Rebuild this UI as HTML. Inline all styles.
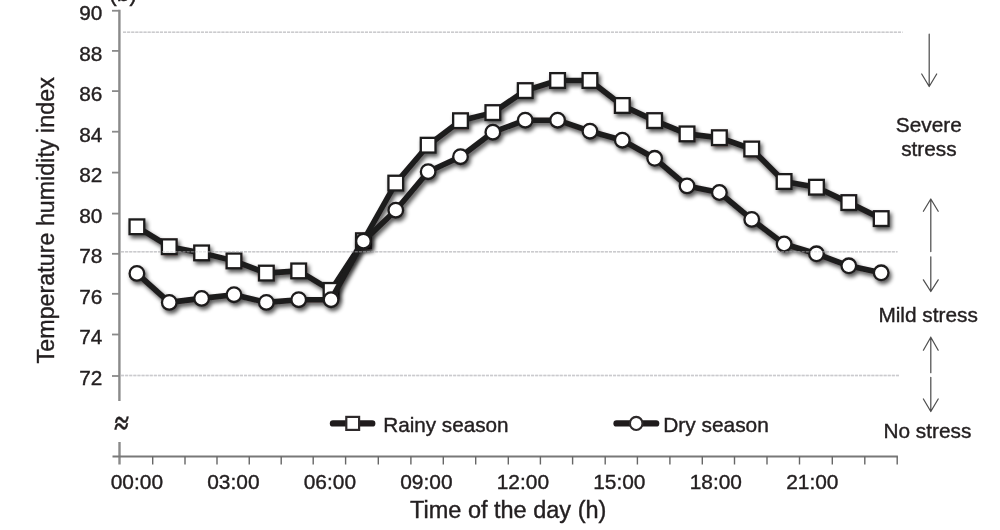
<!DOCTYPE html>
<html lang="en"><head><meta charset="utf-8"><title>Temperature humidity index</title>
<style>
html,body{margin:0;padding:0;background:#fff;}
body{width:1000px;height:530px;overflow:hidden;}
svg{display:block;filter:blur(0.45px);}
text{font-family:"Liberation Sans",sans-serif;fill:#231f20;stroke:#231f20;stroke-width:0.4px;}
</style></head><body>
<svg width="1000" height="530" viewBox="0 0 1000 530">
<defs>
<filter id="sh" x="-5%" y="-10%" width="110%" height="125%">
<feGaussianBlur in="SourceAlpha" stdDeviation="2.3"/>
<feOffset dx="1.5" dy="2.5" result="b"/>
<feComponentTransfer><feFuncA type="linear" slope="0.68"/></feComponentTransfer>
<feMerge><feMergeNode/><feMergeNode in="SourceGraphic"/></feMerge>
</filter>
</defs>
<rect width="1000" height="530" fill="#fff"/>

<g stroke="#cbcbce" stroke-width="1.5" stroke-dasharray="3.1 1" fill="none">
<line x1="123" y1="32.2" x2="902.5" y2="32.2"/>
<line x1="121" y1="251.8" x2="897.5" y2="251.8"/>
<line x1="121" y1="375.6" x2="899.5" y2="375.6"/>
</g>
<g stroke="#8a8a8a" fill="none">
<line x1="119.4" y1="9.7" x2="119.4" y2="401" stroke-width="2.4"/>
<line x1="119.5" y1="442" x2="119.5" y2="464.5" stroke-width="2.4"/>
<line x1="112.5" y1="456.5" x2="897.9" y2="456.5" stroke-width="1.9" stroke="#787878"/>
<line x1="112" y1="10.75" x2="119.4" y2="10.75" stroke-width="1.8"/>
<line x1="112" y1="50.90" x2="119.4" y2="50.90" stroke-width="1.8"/>
<line x1="112" y1="91.10" x2="119.4" y2="91.10" stroke-width="1.8"/>
<line x1="112" y1="131.70" x2="119.4" y2="131.70" stroke-width="1.8"/>
<line x1="112" y1="172.60" x2="119.4" y2="172.60" stroke-width="1.8"/>
<line x1="112" y1="213.60" x2="119.4" y2="213.60" stroke-width="1.8"/>
<line x1="112" y1="253.80" x2="119.4" y2="253.80" stroke-width="1.8"/>
<line x1="112" y1="293.80" x2="119.4" y2="293.80" stroke-width="1.8"/>
<line x1="112" y1="334.50" x2="119.4" y2="334.50" stroke-width="1.8"/>
<line x1="112" y1="376.00" x2="119.4" y2="376.00" stroke-width="1.8"/>
<line x1="152.70" y1="456.5" x2="152.70" y2="464.5" stroke-width="1.4" stroke="#666"/>
<line x1="185.00" y1="456.5" x2="185.00" y2="464.5" stroke-width="1.4" stroke="#666"/>
<line x1="217.00" y1="456.5" x2="217.00" y2="464.5" stroke-width="1.4" stroke="#666"/>
<line x1="249.25" y1="456.5" x2="249.25" y2="464.5" stroke-width="1.4" stroke="#666"/>
<line x1="281.20" y1="456.5" x2="281.20" y2="464.5" stroke-width="1.4" stroke="#666"/>
<line x1="313.20" y1="456.5" x2="313.20" y2="464.5" stroke-width="1.4" stroke="#666"/>
<line x1="345.60" y1="456.5" x2="345.60" y2="464.5" stroke-width="1.4" stroke="#666"/>
<line x1="378.30" y1="456.5" x2="378.30" y2="464.5" stroke-width="1.4" stroke="#666"/>
<line x1="410.90" y1="456.5" x2="410.90" y2="464.5" stroke-width="1.4" stroke="#666"/>
<line x1="443.30" y1="456.5" x2="443.30" y2="464.5" stroke-width="1.4" stroke="#666"/>
<line x1="475.70" y1="456.5" x2="475.70" y2="464.5" stroke-width="1.4" stroke="#666"/>
<line x1="508.30" y1="456.5" x2="508.30" y2="464.5" stroke-width="1.4" stroke="#666"/>
<line x1="540.40" y1="456.5" x2="540.40" y2="464.5" stroke-width="1.4" stroke="#666"/>
<line x1="572.60" y1="456.5" x2="572.60" y2="464.5" stroke-width="1.4" stroke="#666"/>
<line x1="605.20" y1="456.5" x2="605.20" y2="464.5" stroke-width="1.4" stroke="#666"/>
<line x1="637.40" y1="456.5" x2="637.40" y2="464.5" stroke-width="1.4" stroke="#666"/>
<line x1="669.90" y1="456.5" x2="669.90" y2="464.5" stroke-width="1.4" stroke="#666"/>
<line x1="702.30" y1="456.5" x2="702.30" y2="464.5" stroke-width="1.4" stroke="#666"/>
<line x1="734.50" y1="456.5" x2="734.50" y2="464.5" stroke-width="1.4" stroke="#666"/>
<line x1="767.00" y1="456.5" x2="767.00" y2="464.5" stroke-width="1.4" stroke="#666"/>
<line x1="799.50" y1="456.5" x2="799.50" y2="464.5" stroke-width="1.4" stroke="#666"/>
<line x1="832.30" y1="456.5" x2="832.30" y2="464.5" stroke-width="1.4" stroke="#666"/>
<line x1="864.80" y1="456.5" x2="864.80" y2="464.5" stroke-width="1.4" stroke="#666"/>
<line x1="897.20" y1="456.5" x2="897.20" y2="464.5" stroke-width="1.4" stroke="#666"/>
</g>
<g font-size="20.8" text-anchor="end">
<text x="102.3" y="20.20">90</text>
<text x="102.3" y="60.70">88</text>
<text x="102.3" y="101.20">86</text>
<text x="102.3" y="141.70">84</text>
<text x="102.3" y="182.20">82</text>
<text x="102.3" y="222.70">80</text>
<text x="102.3" y="263.20">78</text>
<text x="102.3" y="303.70">76</text>
<text x="102.3" y="344.20">74</text>
<text x="102.3" y="384.70">72</text>
</g>
<g font-size="20.9" text-anchor="middle">
<text x="136.90" y="489.4">00:00</text>
<text x="233.39" y="489.4">03:00</text>
<text x="329.88" y="489.4">06:00</text>
<text x="426.37" y="489.4">09:00</text>
<text x="522.86" y="489.4">12:00</text>
<text x="619.35" y="489.4">15:00</text>
<text x="715.84" y="489.4">18:00</text>
<text x="812.33" y="489.4">21:00</text>
</g>
<text x="508.2" y="517.6" font-size="23.5" text-anchor="middle">Time of the day (h)</text>
<text transform="translate(54,220.3) rotate(-90)" font-size="23.3" text-anchor="middle">Temperature humidity index</text>
<text x="109" y="1.2" font-size="23">(b)</text>
<text transform="translate(120.9,433.6) scale(0.86,1.08) skewX(-5)" font-size="30" text-anchor="middle" font-weight="bold" stroke="#231f20" stroke-width="1.1" style="font-family:'Liberation Serif',serif">≈</text>
<g font-size="20.8" text-anchor="middle">
<text x="928.8" y="131.8">Severe</text>
<text x="928.9" y="155.6">stress</text>
<text x="928.1" y="321.8">Mild stress</text>
<text x="927.4" y="437.5">No stress</text>
</g>
<g stroke="#505050" stroke-width="1.25" fill="none" stroke-linecap="round" stroke-linejoin="round">
<path d="M929.2 34.2V86.5M921.7 74L929.2 86.5L936.7 74"/>
<path d="M930.8 199V251.6M930.8 256.8V291.5M923.4 211.3L930.8 199L938.2 211.3M923.4 279.8L930.8 291.5L938.2 279.8"/>
<path d="M930.8 337.2V372.7M930.8 377.3V411.5M923.4 350.2L930.8 337.2L938.2 350.2M923.4 399L930.8 411.5L938.2 399"/>
</g>
<g filter="url(#sh)">
<polyline points="136.90,226.80 169.26,246.70 201.62,252.90 233.98,260.90 266.34,273.10 298.70,270.90 331.06,290.40 363.42,240.70 395.78,183.10 428.14,145.20 460.50,120.70 492.86,112.60 525.22,90.60 557.58,80.50 589.94,80.50 622.30,105.50 654.66,120.60 687.02,133.90 719.38,137.70 751.74,149.00 784.10,181.50 816.46,187.20 848.82,202.60 881.18,218.60" fill="none" stroke="#1f1b1c" stroke-width="5.6" stroke-linejoin="round" stroke-linecap="round"/>
<rect x="129.55" y="219.45" width="14.7" height="14.7" fill="#fff" stroke="#1f1b1c" stroke-width="2.3"/>
<rect x="161.91" y="239.35" width="14.7" height="14.7" fill="#fff" stroke="#1f1b1c" stroke-width="2.3"/>
<rect x="194.27" y="245.55" width="14.7" height="14.7" fill="#fff" stroke="#1f1b1c" stroke-width="2.3"/>
<rect x="226.63" y="253.55" width="14.7" height="14.7" fill="#fff" stroke="#1f1b1c" stroke-width="2.3"/>
<rect x="258.99" y="265.75" width="14.7" height="14.7" fill="#fff" stroke="#1f1b1c" stroke-width="2.3"/>
<rect x="291.35" y="263.55" width="14.7" height="14.7" fill="#fff" stroke="#1f1b1c" stroke-width="2.3"/>
<rect x="323.71" y="283.05" width="14.7" height="14.7" fill="#fff" stroke="#1f1b1c" stroke-width="2.3"/>
<rect x="356.07" y="233.35" width="14.7" height="14.7" fill="#fff" stroke="#1f1b1c" stroke-width="2.3"/>
<rect x="388.43" y="175.75" width="14.7" height="14.7" fill="#fff" stroke="#1f1b1c" stroke-width="2.3"/>
<rect x="420.79" y="137.85" width="14.7" height="14.7" fill="#fff" stroke="#1f1b1c" stroke-width="2.3"/>
<rect x="453.15" y="113.35" width="14.7" height="14.7" fill="#fff" stroke="#1f1b1c" stroke-width="2.3"/>
<rect x="485.51" y="105.25" width="14.7" height="14.7" fill="#fff" stroke="#1f1b1c" stroke-width="2.3"/>
<rect x="517.87" y="83.25" width="14.7" height="14.7" fill="#fff" stroke="#1f1b1c" stroke-width="2.3"/>
<rect x="550.23" y="73.15" width="14.7" height="14.7" fill="#fff" stroke="#1f1b1c" stroke-width="2.3"/>
<rect x="582.59" y="73.15" width="14.7" height="14.7" fill="#fff" stroke="#1f1b1c" stroke-width="2.3"/>
<rect x="614.95" y="98.15" width="14.7" height="14.7" fill="#fff" stroke="#1f1b1c" stroke-width="2.3"/>
<rect x="647.31" y="113.25" width="14.7" height="14.7" fill="#fff" stroke="#1f1b1c" stroke-width="2.3"/>
<rect x="679.67" y="126.55" width="14.7" height="14.7" fill="#fff" stroke="#1f1b1c" stroke-width="2.3"/>
<rect x="712.03" y="130.35" width="14.7" height="14.7" fill="#fff" stroke="#1f1b1c" stroke-width="2.3"/>
<rect x="744.39" y="141.65" width="14.7" height="14.7" fill="#fff" stroke="#1f1b1c" stroke-width="2.3"/>
<rect x="776.75" y="174.15" width="14.7" height="14.7" fill="#fff" stroke="#1f1b1c" stroke-width="2.3"/>
<rect x="809.11" y="179.85" width="14.7" height="14.7" fill="#fff" stroke="#1f1b1c" stroke-width="2.3"/>
<rect x="841.47" y="195.25" width="14.7" height="14.7" fill="#fff" stroke="#1f1b1c" stroke-width="2.3"/>
<rect x="873.83" y="211.25" width="14.7" height="14.7" fill="#fff" stroke="#1f1b1c" stroke-width="2.3"/>
</g>
<g filter="url(#sh)">
<polyline points="136.90,273.40 169.26,302.40 201.62,298.40 233.98,294.70 266.34,302.40 298.70,299.70 331.06,299.70 363.42,241.20 395.78,210.20 428.14,171.70 460.50,156.70 492.86,132.20 525.22,120.20 557.58,120.20 589.94,131.20 622.30,140.20 654.66,158.30 687.02,185.90 719.38,192.50 751.74,219.40 784.10,244.00 816.46,253.80 848.82,265.80 881.18,272.80" fill="none" stroke="#1f1b1c" stroke-width="5.6" stroke-linejoin="round" stroke-linecap="round"/>
<circle cx="136.90" cy="273.40" r="7.3" fill="#fff" stroke="#1f1b1c" stroke-width="2.3"/>
<circle cx="169.26" cy="302.40" r="7.3" fill="#fff" stroke="#1f1b1c" stroke-width="2.3"/>
<circle cx="201.62" cy="298.40" r="7.3" fill="#fff" stroke="#1f1b1c" stroke-width="2.3"/>
<circle cx="233.98" cy="294.70" r="7.3" fill="#fff" stroke="#1f1b1c" stroke-width="2.3"/>
<circle cx="266.34" cy="302.40" r="7.3" fill="#fff" stroke="#1f1b1c" stroke-width="2.3"/>
<circle cx="298.70" cy="299.70" r="7.3" fill="#fff" stroke="#1f1b1c" stroke-width="2.3"/>
<circle cx="331.06" cy="299.70" r="7.3" fill="#fff" stroke="#1f1b1c" stroke-width="2.3"/>
<circle cx="363.42" cy="241.20" r="7.3" fill="#fff" stroke="#1f1b1c" stroke-width="2.3"/>
<circle cx="395.78" cy="210.20" r="7.3" fill="#fff" stroke="#1f1b1c" stroke-width="2.3"/>
<circle cx="428.14" cy="171.70" r="7.3" fill="#fff" stroke="#1f1b1c" stroke-width="2.3"/>
<circle cx="460.50" cy="156.70" r="7.3" fill="#fff" stroke="#1f1b1c" stroke-width="2.3"/>
<circle cx="492.86" cy="132.20" r="7.3" fill="#fff" stroke="#1f1b1c" stroke-width="2.3"/>
<circle cx="525.22" cy="120.20" r="7.3" fill="#fff" stroke="#1f1b1c" stroke-width="2.3"/>
<circle cx="557.58" cy="120.20" r="7.3" fill="#fff" stroke="#1f1b1c" stroke-width="2.3"/>
<circle cx="589.94" cy="131.20" r="7.3" fill="#fff" stroke="#1f1b1c" stroke-width="2.3"/>
<circle cx="622.30" cy="140.20" r="7.3" fill="#fff" stroke="#1f1b1c" stroke-width="2.3"/>
<circle cx="654.66" cy="158.30" r="7.3" fill="#fff" stroke="#1f1b1c" stroke-width="2.3"/>
<circle cx="687.02" cy="185.90" r="7.3" fill="#fff" stroke="#1f1b1c" stroke-width="2.3"/>
<circle cx="719.38" cy="192.50" r="7.3" fill="#fff" stroke="#1f1b1c" stroke-width="2.3"/>
<circle cx="751.74" cy="219.40" r="7.3" fill="#fff" stroke="#1f1b1c" stroke-width="2.3"/>
<circle cx="784.10" cy="244.00" r="7.3" fill="#fff" stroke="#1f1b1c" stroke-width="2.3"/>
<circle cx="816.46" cy="253.80" r="7.3" fill="#fff" stroke="#1f1b1c" stroke-width="2.3"/>
<circle cx="848.82" cy="265.80" r="7.3" fill="#fff" stroke="#1f1b1c" stroke-width="2.3"/>
<circle cx="881.18" cy="272.80" r="7.3" fill="#fff" stroke="#1f1b1c" stroke-width="2.3"/>
</g>
<g stroke="#cbcbce" stroke-width="1.5" stroke-dasharray="3.1 1" fill="none" opacity="0.45">
<line x1="123" y1="32.2" x2="902.5" y2="32.2"/>
<line x1="121" y1="251.8" x2="897.5" y2="251.8"/>
<line x1="121" y1="375.6" x2="899.5" y2="375.6"/>
</g>
<g>
<line x1="333" y1="423.4" x2="372.2" y2="423.4" stroke="#1f1b1c" stroke-width="6.4" stroke-linecap="round"/>
<rect x="346.3" y="416.9" width="12.8" height="13" fill="#fff" stroke="#2e2a2b" stroke-width="2.2"/>
<line x1="616.6" y1="423.4" x2="656.1" y2="423.4" stroke="#1f1b1c" stroke-width="6.4" stroke-linecap="round"/>
<ellipse cx="636.2" cy="423.4" rx="6.3" ry="6.6" fill="#fff" stroke="#2e2a2b" stroke-width="2.2"/>
<text x="383.2" y="431.8" font-size="20.7">Rainy season</text>
<text x="663.2" y="431.8" font-size="20.9">Dry season</text>
</g>
</svg>
</body></html>
